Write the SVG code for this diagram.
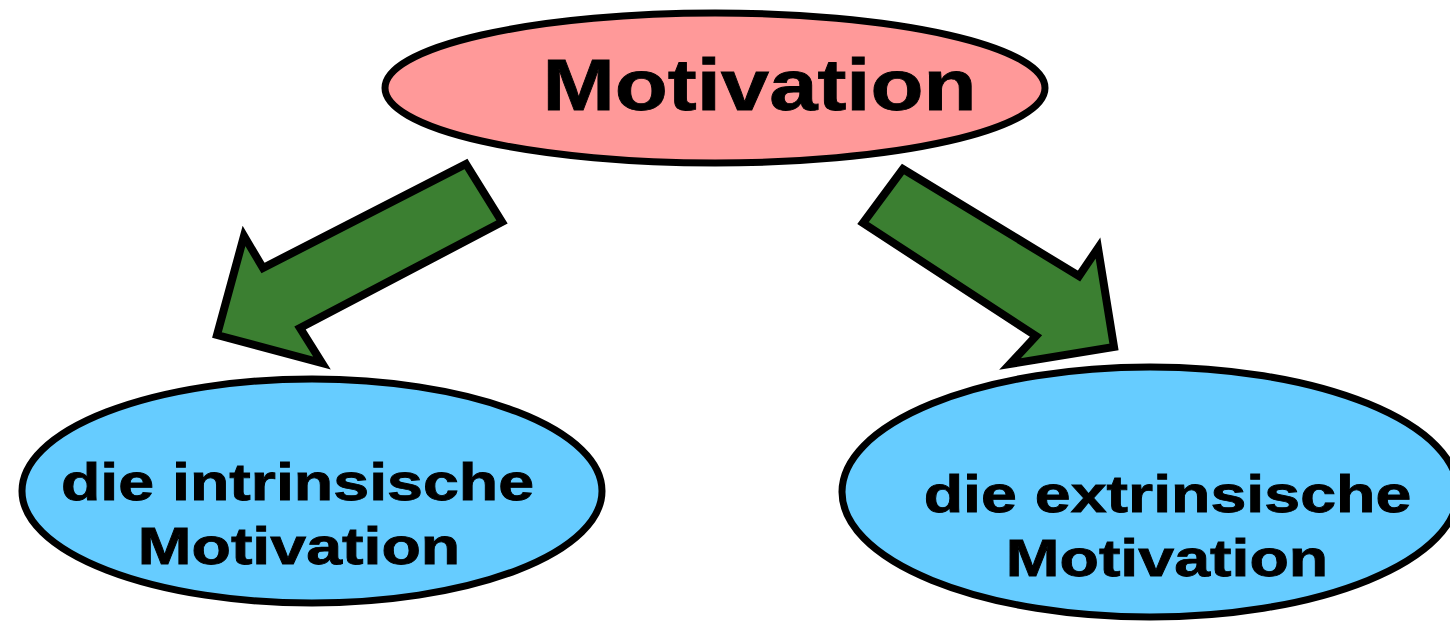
<svg xmlns="http://www.w3.org/2000/svg" width="1450" height="623" viewBox="0 0 1450 623">
<style>
.node{stroke:#000;stroke-width:7}
.arrow{fill:#3b7f31;stroke:#000;stroke-width:8;stroke-linejoin:miter}
.t{font-family:"Liberation Sans",Arial,sans-serif;font-weight:bold;fill:#000;stroke:#000;stroke-width:0.8;text-anchor:middle}
.big{font-size:73px}
.sm{font-size:51px}
</style>
<rect width="1450" height="623" fill="#fff"/>
<g id="connectors">
<polygon class="arrow" points="466,164 502,222 300,328 322,363 217,335 244,236 263,268"/>
<polygon class="arrow" points="903,169 863,223 1036,336 1010,364 1114,347 1098,248 1079,276"/>
</g>
<g id="motivation">
<ellipse class="node" cx="715" cy="88" rx="330" ry="75" fill="#ff9999"/>
<text class="t big" transform="translate(759.5,110) scale(1.19,1)">Motivation</text>
</g>
<g id="intrinsisch">
<ellipse class="node" cx="312" cy="491" rx="290" ry="112" fill="#66ccff"/>
<text class="t sm" transform="translate(297.5,500) scale(1.265,1)">die intrinsische</text>
<text class="t sm" transform="translate(299,564) scale(1.265,1)">Motivation</text>
</g>
<g id="extrinsisch">
<ellipse class="node" cx="1150" cy="492" rx="308" ry="125" fill="#66ccff"/>
<text class="t sm" transform="translate(1167.5,512) scale(1.265,1)">die extrinsische</text>
<text class="t sm" transform="translate(1167,576) scale(1.265,1)">Motivation</text>
</g>
</svg>
